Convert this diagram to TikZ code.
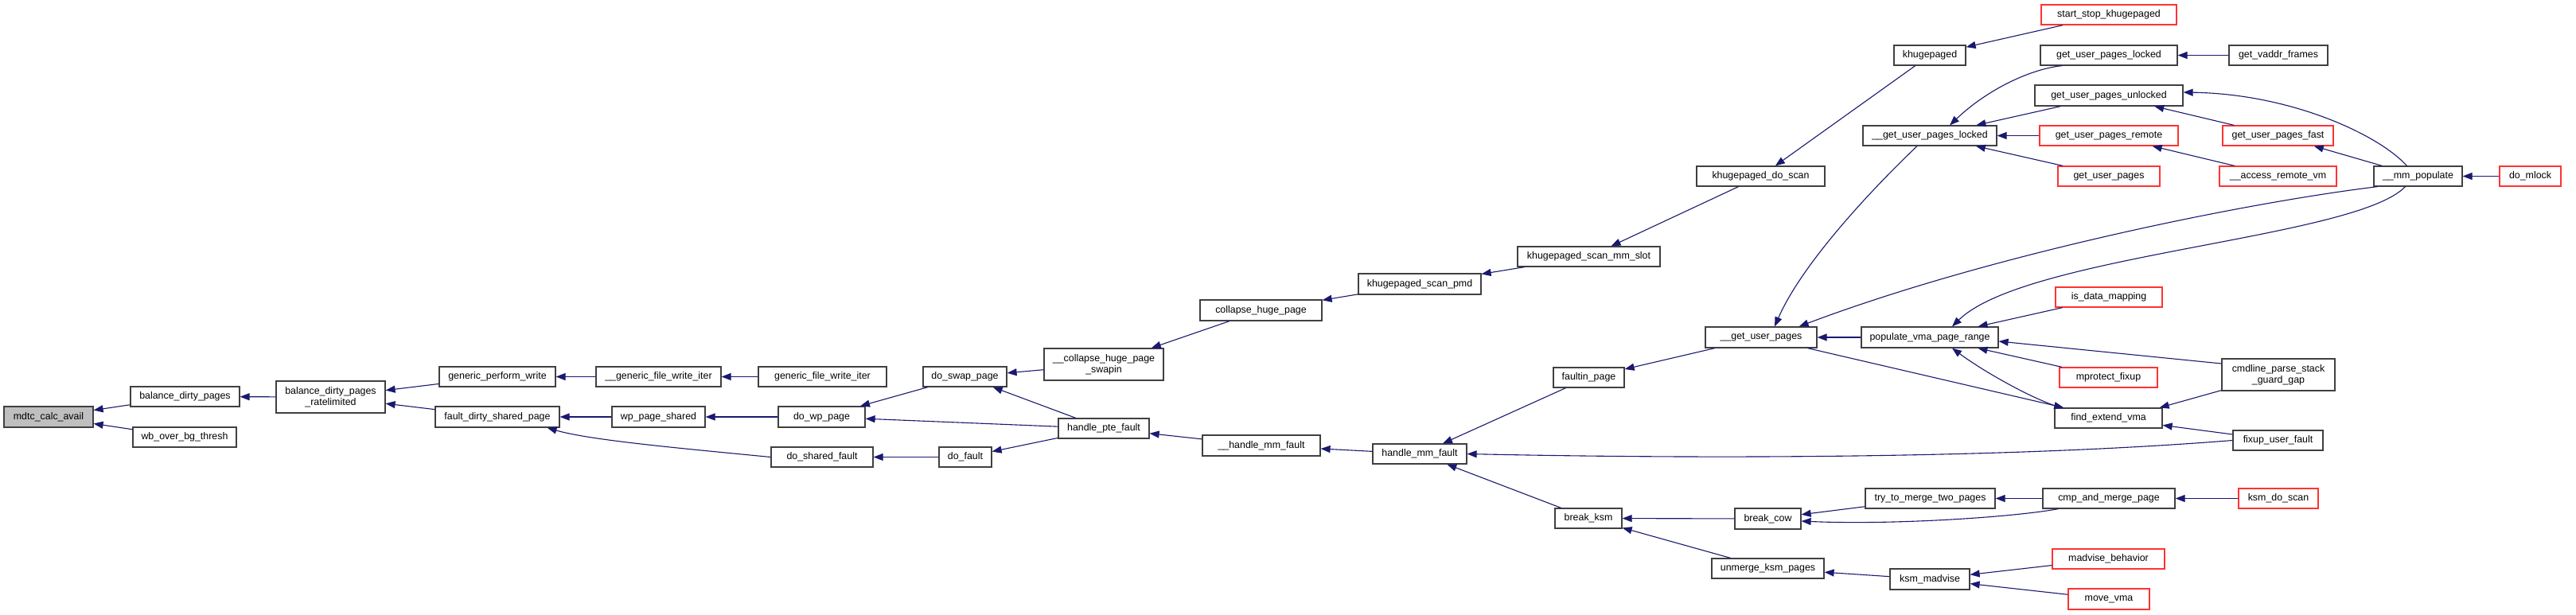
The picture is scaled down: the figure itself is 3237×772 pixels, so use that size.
\documentclass[tikz,border=0pt]{standalone}
\usepackage{fontspec}
\setmainfont{Liberation Sans}
\usetikzlibrary{arrows.meta,calc}
\definecolor{edgeblue}{HTML}{191970}
\definecolor{boxgray}{HTML}{404040}
\definecolor{boxred}{HTML}{FF3333}
\definecolor{fillgray}{HTML}{BFBFBF}
\tikzset{
  fn/.style={draw=boxgray, line width=1.2pt, fill=white, inner sep=0pt, align=center,
    font=\fontsize{12.4}{13.7}\selectfont},
  fnred/.style={fn, draw=boxred},
  fnroot/.style={fn, fill=fillgray},
  edge/.style={draw=edgeblue, line width=1.1pt, -{Triangle[length=12pt,width=9pt]}},
}
\newcommand\fbx[7]{\node[#1, minimum width={(#5-#3)*1pt}, minimum height={(#6-#4)*1pt}] (#2) at ({(#3+#5)/2},{(#4+#6)/2}) {#7};}
\begin{document}
\begin{tikzpicture}[x=1pt,y=-1pt]
\fill[white] (0,0) rectangle (3237,772);
\useasboundingbox (0,0) rectangle (3237,772);
% nodes
\fbx{fnroot}{mdtc}{5}{511}{117}{537}{mdtc\_calc\_avail}
\fbx{fn}{bdp}{164}{486}{301}{511}{balance\_dirty\_pages}
\fbx{fn}{wbo}{167}{537}{297}{562}{wb\_over\_bg\_thresh}
\fbx{fn}{bdpr}{347}{479}{484}{519}{balance\_dirty\_pages\\\_ratelimited}
\fbx{fn}{gpw}{552}{461}{698}{486}{generic\_perform\_write}
\fbx{fn}{gfwiu}{749}{461}{906}{486}{\_\_generic\_file\_write\_iter}
\fbx{fn}{gfwi}{953}{461}{1114}{486}{generic\_file\_write\_iter}
\fbx{fn}{fdsp}{547}{511}{703}{537}{fault\_dirty\_shared\_page}
\fbx{fn}{wps}{769}{511}{886}{537}{wp\_page\_shared}
\fbx{fn}{dwp}{978}{511}{1087}{537}{do\_wp\_page}
\fbx{fn}{dsf}{969}{562}{1097}{587}{do\_shared\_fault}
\fbx{fn}{dsp}{1160}{461}{1265}{486}{do\_swap\_page}
\fbx{fn}{chps}{1312}{438}{1462}{478}{\_\_collapse\_huge\_page\\\_swapin}
\fbx{fn}{hpf}{1330}{526}{1444}{551}{handle\_pte\_fault}
\fbx{fn}{dof}{1180}{562}{1246}{587}{do\_fault}
\fbx{fn}{hmfu}{1511}{547}{1659}{573}{\_\_handle\_mm\_fault}
\fbx{fn}{chp}{1508}{377}{1661}{403}{collapse\_huge\_page}
\fbx{fn}{kspmd}{1707}{344}{1861}{370}{khugepaged\_scan\_pmd}
\fbx{fn}{ksms}{1907}{310}{2086}{335}{khugepaged\_scan\_mm\_slot}
\fbx{fn}{kds}{2132}{209}{2293}{234}{khugepaged\_do\_scan}
\fbx{fn}{khp}{2380}{57}{2470}{82}{khugepaged}
\fbx{fnred}{ssk}{2565}{6}{2735}{31}{start\_stop\_khugepaged}
\fbx{fn}{gupl}{2564}{57}{2736}{82}{get\_user\_pages\_locked}
\fbx{fn}{gvf}{2801}{57}{2925}{82}{get\_vaddr\_frames}
\fbx{fn}{gupu}{2557}{107}{2743}{133}{get\_user\_pages\_unlocked}
\fbx{fn}{guplu}{2341}{158}{2509}{183}{\_\_get\_user\_pages\_locked}
\fbx{fnred}{gupr}{2563}{158}{2737}{183}{get\_user\_pages\_remote}
\fbx{fnred}{gup}{2586}{209}{2714}{234}{get\_user\_pages}
\fbx{fnred}{gupf}{2793}{158}{2932}{183}{get\_user\_pages\_fast}
\fbx{fnred}{arv}{2789}{209}{2936}{234}{\_\_access\_remote\_vm}
\fbx{fn}{mmp}{2983}{209}{3094}{234}{\_\_mm\_populate}
\fbx{fnred}{dml}{3141}{209}{3218}{234}{do\_mlock}
\fbx{fnred}{idm}{2583}{361}{2717}{386}{is\_data\_mapping}
\fbx{fn}{fp}{1952}{462}{2041}{487}{faultin\_page}
\fbx{fn}{hmf}{1725}{558}{1843}{583}{handle\_mm\_fault}
\fbx{fn}{bk}{1954}{639}{2038}{664}{break\_ksm}
\fbx{fn}{gupu2}{2143}{411}{2283}{437}{\_\_get\_user\_pages}
\fbx{fn}{pvpr}{2339}{411}{2511}{437}{populate\_vma\_page\_range}
\fbx{fnred}{mpf}{2588}{462}{2711}{487}{mprotect\_fixup}
\fbx{fn}{fev}{2582}{513}{2717}{538}{find\_extend\_vma}
\fbx{fn}{cpsg}{2792}{451}{2934}{491}{cmdline\_parse\_stack\\\_guard\_gap}
\fbx{fn}{fuf}{2806}{541}{2919}{566}{fixup\_user\_fault}
\fbx{fn}{ttm}{2344}{614}{2507}{639}{try\_to\_merge\_two\_pages}
\fbx{fn}{bc}{2180}{639}{2263}{665}{break\_cow}
\fbx{fn}{cmp}{2567}{614}{2733}{639}{cmp\_and\_merge\_page}
\fbx{fnred}{kdscan}{2813}{614}{2913}{639}{ksm\_do\_scan}
\fbx{fn}{uksm}{2151}{702}{2292}{727}{unmerge\_ksm\_pages}
\fbx{fn}{kma}{2375}{715}{2475}{741}{ksm\_madvise}
\fbx{fnred}{mb}{2579}{690}{2720}{715}{madvise\_behavior}
\fbx{fnred}{mv}{2599}{740}{2701}{766}{move\_vma}
% edges
\draw[edge] (bdp) -- (mdtc);
\draw[edge] (wbo) -- (mdtc);
\draw[edge] (bdpr) -- (bdp);
\draw[edge] (gpw) -- (bdpr);
\draw[edge] (fdsp) -- (bdpr);
\draw[edge] (gfwiu) -- (gpw);
\draw[edge] (gfwi) -- (gfwiu);
\draw[edge] (wps) -- (fdsp);
\draw[edge] (dsf.west) .. controls (850,563) and (740,553) .. ($(fdsp.south east)+(-16,0)$);
\draw[edge] (dwp) -- (wps);
\draw[edge] (dsp) -- (dwp);
\draw[edge] (hpf) -- (dwp);
\draw[edge] (dof) -- (dsf);
\draw[edge] (chps) -- (dsp);
\draw[edge] (hpf) -- (dsp);
\draw[edge] (hpf) -- (dof);
\draw[edge] (chp) -- (chps);
\draw[edge] (hmfu) -- (hpf);
\draw[edge] (kspmd) -- (chp);
\draw[edge] (ksms) -- (kspmd);
\draw[edge] (kds) -- (ksms);
\draw[edge] (khp) -- (kds);
\draw[edge] (ssk) -- (khp);
\draw[edge] (hmf) -- (hmfu);
\draw[edge] (fp) -- (hmf);
\draw[edge] (bk) -- (hmf);
\draw[edge] (fuf.west) .. controls (2500,578) and (2100,576) .. (hmf.east);
\draw[edge] (gupu2) -- (fp);
\draw[edge] ($(guplu.south)+(-16,0)$) .. controls (2355,235) and (2265,330) .. ($(gupu2.north)+(17,0)$);
\draw[edge] (pvpr) -- (gupu2);
\draw[edge] ($(mmp.south west)+(5,0)$) .. controls (2820,255) and (2500,320) .. ($(gupu2.north east)+(-23,0)$);
\draw[edge] (gupu2) -- (fev);
\draw[edge] ($(mmp.south west)+(40,0)$) .. controls (2960,300) and (2545,320) .. ($(pvpr.north)+(28,0)$);
\draw[edge] (idm) -- (pvpr);
\draw[edge] ($(cpsg.west)+(0,-14)$) -- ($(pvpr.east)+(0,5)$);
\draw[edge] (mpf) -- (pvpr);
\draw[edge] ($(fev.north west)+(8,0)$) .. controls (2550,500) and (2490,465) .. ($(pvpr.south)+(28,0)$);
\draw[edge] ($(cpsg.south west)+(0,-1)$) -- ($(fev.north east)+(-4,0)$);
\draw[edge] (fuf) -- (fev);
\draw[edge] ($(gupl.south west)+(28,0)$) .. controls (2555,86) and (2500,110) .. ($(guplu.north)+(25,0)$);
\draw[edge] (gupu) -- (guplu);
\draw[edge] (gupr) -- (guplu);
\draw[edge] (gup) -- (guplu);
\draw[edge] (gvf) -- (gupl);
\draw[edge] ($(mmp.north west)+(42,0)$) .. controls (2990,170) and (2880,118) .. ($(gupu.east)+(0,-4)$);
\draw[edge] (gupf) -- (gupu);
\draw[edge] (arv) -- (gupr);
\draw[edge] (mmp) -- (gupf);
\draw[edge] (dml) -- (mmp);
\draw[edge] (bc) -- (bk);
\draw[edge] (uksm) -- (bk);
\draw[edge] (ttm) -- (bc);
\draw[edge] ($(cmp.south west)+(20,0)$) .. controls (2530,650) and (2380,660) .. ($(bc.east)+(0,3)$);
\draw[edge] (cmp) -- (ttm);
\draw[edge] (kdscan) -- (cmp);
\draw[edge] (kma) -- (uksm);
\draw[edge] (mb) -- (kma);
\draw[edge] (mv) -- (kma);
\end{tikzpicture}
\end{document}
